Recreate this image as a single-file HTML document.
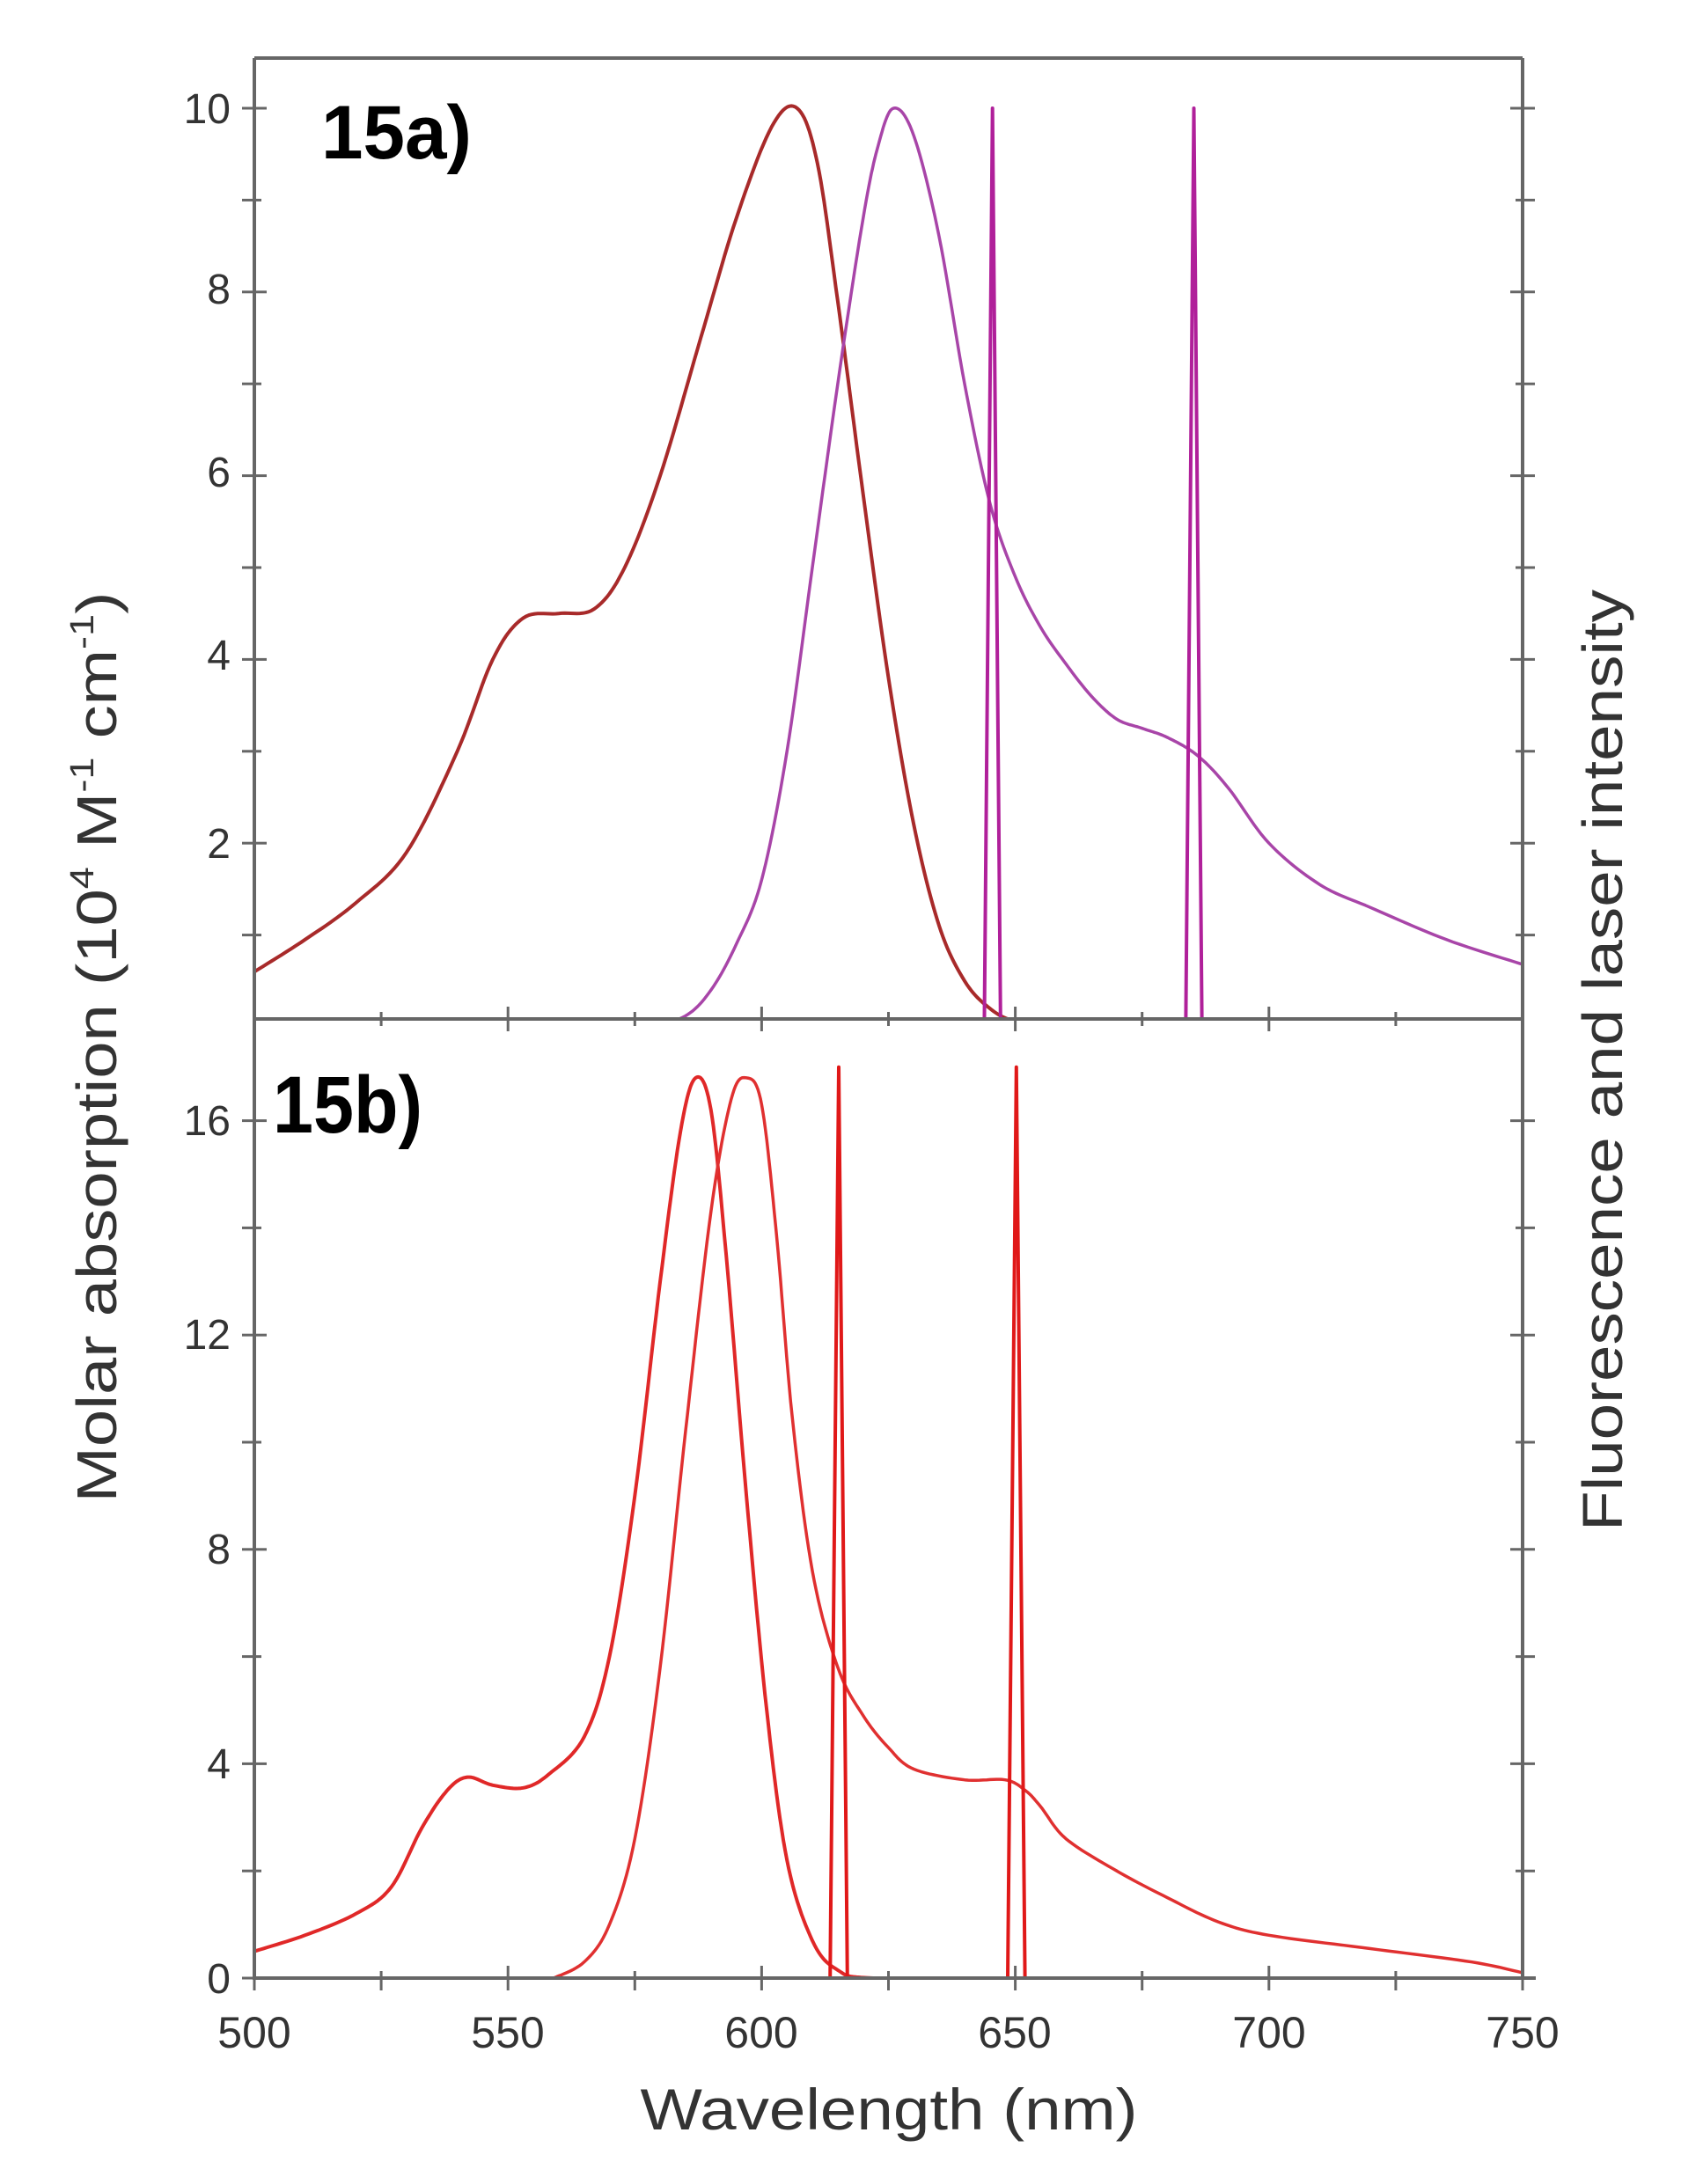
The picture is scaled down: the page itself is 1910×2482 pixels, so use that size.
<!DOCTYPE html>
<html><head><meta charset="utf-8">
<style>
html,body{margin:0;padding:0;background:#fff;}
svg{display:block;}
text{font-family:"Liberation Sans",Arial,sans-serif;}
</style></head>
<body>
<svg id="s" width="1910" height="2482" viewBox="0 0 1910 2482" xmlns="http://www.w3.org/2000/svg">
<defs>
<clipPath id="ct"><rect x="289" y="60" width="1441" height="1098"/></clipPath>
<clipPath id="cb"><rect x="289" y="1158" width="1441" height="1090"/></clipPath>
</defs>
<rect width="1910" height="2482" fill="#fff"/>
<g id="curvesT" fill="none" stroke-linejoin="round" clip-path="url(#ct)"></g>
<g id="curvesB" fill="none" stroke-linejoin="round" clip-path="url(#cb)"></g>
<g stroke="#666" stroke-width="4" fill="none">
<line x1="289" y1="66" x2="1730" y2="66"/>
<line x1="289" y1="66" x2="289" y2="2248"/>
<line x1="1730" y1="66" x2="1730" y2="2248"/>
<line x1="287" y1="1158" x2="1732" y2="1158"/>
<line x1="287" y1="2248" x2="1745" y2="2248"/>
</g>
<g id="ticks" stroke="#666" stroke-width="3"></g>
<g font-size="48" fill="#333" text-anchor="end">
<text x="262" y="140">10</text>
<text x="262" y="345">8</text>
<text x="262" y="553">6</text>
<text x="262" y="761">4</text>
<text x="262" y="975">2</text>
<text x="262" y="1290">16</text>
<text x="262" y="1533">12</text>
<text x="262" y="1777">8</text>
<text x="262" y="2021">4</text>
<text x="262" y="2265">0</text>
</g>
<g font-size="50" fill="#333" text-anchor="middle">
<text x="289" y="2327">500</text>
<text x="577" y="2327">550</text>
<text x="865" y="2327">600</text>
<text x="1153" y="2327">650</text>
<text x="1442" y="2327">700</text>
<text x="1730" y="2327">750</text>
</g>
<text x="1010" y="2420" font-size="66" fill="#333" text-anchor="middle" textLength="565" lengthAdjust="spacingAndGlyphs">Wavelength (nm)</text>
<text transform="translate(132,1190) rotate(-90)" font-size="64" fill="#333" text-anchor="middle" textLength="1035" lengthAdjust="spacingAndGlyphs">Molar absorption (10<tspan font-size="38" dy="-26">4</tspan><tspan dy="26"> M</tspan><tspan font-size="38" dy="-26">-1</tspan><tspan dy="26"> cm</tspan><tspan font-size="38" dy="-26">-1</tspan><tspan dy="26">)</tspan></text>
<text transform="translate(1843,1205) rotate(-90)" font-size="64" fill="#333" text-anchor="middle" textLength="1070" lengthAdjust="spacingAndGlyphs">Fluorescence and laser intensity</text>
<text x="365" y="180" font-size="86" font-weight="bold" fill="#000" textLength="171" lengthAdjust="spacingAndGlyphs">15a)</text>
<text x="310" y="1287" font-size="92" font-weight="bold" fill="#000" textLength="170" lengthAdjust="spacingAndGlyphs">15b)</text>
</svg>
<script>
(function(){
var NS="http://www.w3.org/2000/svg";
function X(nm){return 289+(nm-500)*5.764;}
function YT(v){return 1167-104.4*v;}
function YB(v){return 2248-60.9*v;}
function spline(pts,Y,n){
  var out=[];
  for(var i=0;i<pts.length-1;i++){
    var p0=pts[Math.max(0,i-1)],p1=pts[i],p2=pts[i+1],p3=pts[Math.min(pts.length-1,i+2)];
    for(var k=0;k<n;k++){
      var t=k/n,t2=t*t,t3=t2*t;
      var x=0.5*((2*p1[0])+(-p0[0]+p2[0])*t+(2*p0[0]-5*p1[0]+4*p2[0]-p3[0])*t2+(-p0[0]+3*p1[0]-3*p2[0]+p3[0])*t3);
      var y=0.5*((2*p1[1])+(-p0[1]+p2[1])*t+(2*p0[1]-5*p1[1]+4*p2[1]-p3[1])*t2+(-p0[1]+3*p1[1]-3*p2[1]+p3[1])*t3);
      out.push(X(x).toFixed(1)+","+Y(Math.max(y,0)).toFixed(1));
    }
  }
  var l=pts[pts.length-1];out.push(X(l[0]).toFixed(1)+","+Y(l[1]).toFixed(1));
  return out.join(" ");
}
var gT=document.getElementById("curvesT"),gB=document.getElementById("curvesB");
function poly(g,pts,col,w){var p=document.createElementNS(NS,"polyline");p.setAttribute("points",pts);p.setAttribute("stroke",col);p.setAttribute("stroke-width",w);g.appendChild(p);}
var absT=[[500,0.6],[510,0.95],[520,1.35],[530,1.9],[540,3.0],[547,4.0],[553,4.45],[560,4.5],[567,4.55],[573,5.0],[580,6.0],[588,7.5],[595,8.8],[602,9.8],[607,10],[611,9.4],[615,7.9],[620,5.8],[625,3.8],[630,2.2],[635,1.1],[640,0.5],[645,0.2],[650,0.06],[658,0]];
var flT=[[578,0],[585,0.12],[590,0.4],[595,0.9],[600,1.6],[605,3.0],[610,5.0],[615,7.0],[620,8.8],[623,9.6],[626,10],[630,9.7],[635,8.6],[640,7.0],[645,5.7],[650,4.9],[655,4.35],[660,3.95],[665,3.6],[670,3.35],[675,3.25],[680,3.15],[686,2.95],[692,2.6],[700,2.0],[710,1.55],[720,1.3],[735,0.95],[750,0.68]];
poly(gT,spline(absT,YT,12),"#a82a2a",4);
poly(gT,spline(flT,YT,12),"#a845a8",3.5);
function laser(g,c,hw,peak,Y,col){poly(g,X(c-hw).toFixed(1)+","+Y(0)+" "+X(c).toFixed(1)+","+Y(peak)+" "+X(c+hw).toFixed(1)+","+Y(0),col,4);}
laser(gT,645.5,1.6,10,YT,"#b0209a");
laser(gT,685.2,1.6,10,YT,"#b0209a");
var absB=[[500,0.5],[510,0.8],[520,1.2],[527,1.7],[533,2.8],[538,3.5],[542,3.75],[547,3.6],[553,3.55],[558,3.8],[565,4.5],[570,6],[575,9],[580,13],[584,15.8],[587,16.8],[590,16.2],[593,13.5],[597,9],[601,5],[605,2.2],[610,0.7],[615,0.15],[622,0],[650,0]];
var flB=[[559,0],[565,0.3],[570,1.0],[575,2.6],[580,5.8],[585,10.2],[590,14.3],[594,16.4],[597,16.8],[600,16.3],[603,13.8],[606,10.5],[610,7.6],[615,5.8],[620,4.9],[625,4.3],[630,3.9],[640,3.7],[648,3.7],[652,3.5],[655,3.2],[660,2.6],[670,2.0],[680,1.5],[690,1.05],[700,0.8],[720,0.55],[740,0.3],[750,0.1]];
poly(gB,spline(absB,YB,12),"#e02828",4);
poly(gB,spline(flB,YB,12),"#e03030",3.5);
laser(gB,615.2,1.7,17,YB,"#e01818");
laser(gB,650.2,1.7,17,YB,"#e01818");
var tk=document.getElementById("ticks");
function line(x1,y1,x2,y2){var l=document.createElementNS(NS,"line");l.setAttribute("x1",x1);l.setAttribute("y1",y1);l.setAttribute("x2",x2);l.setAttribute("y2",y2);tk.appendChild(l);}
for(var v=1;v<=10;v++){var y=YT(v);var L=(v%2==0)?14:8;line(275,y,289,y);line(289,y,289+L,y);line(1730-L,y,1744,y);}
for(var v=2;v<=16;v+=2){var y=YB(v);var L=(v%4==0)?14:8;line(275,y,289,y);line(289,y,289+L,y);line(1730-L,y,1744,y);}
line(275,YB(0),289,YB(0));
for(var nm=500;nm<=750;nm+=25){var x=X(nm);var L=(nm%50==0)?14:8;line(x,2248,x,2262);line(x,2248-L,x,2248);line(x,1158,x,1158-L);line(x,1158,x,1158+L);}
})();
</script>
</body></html>
